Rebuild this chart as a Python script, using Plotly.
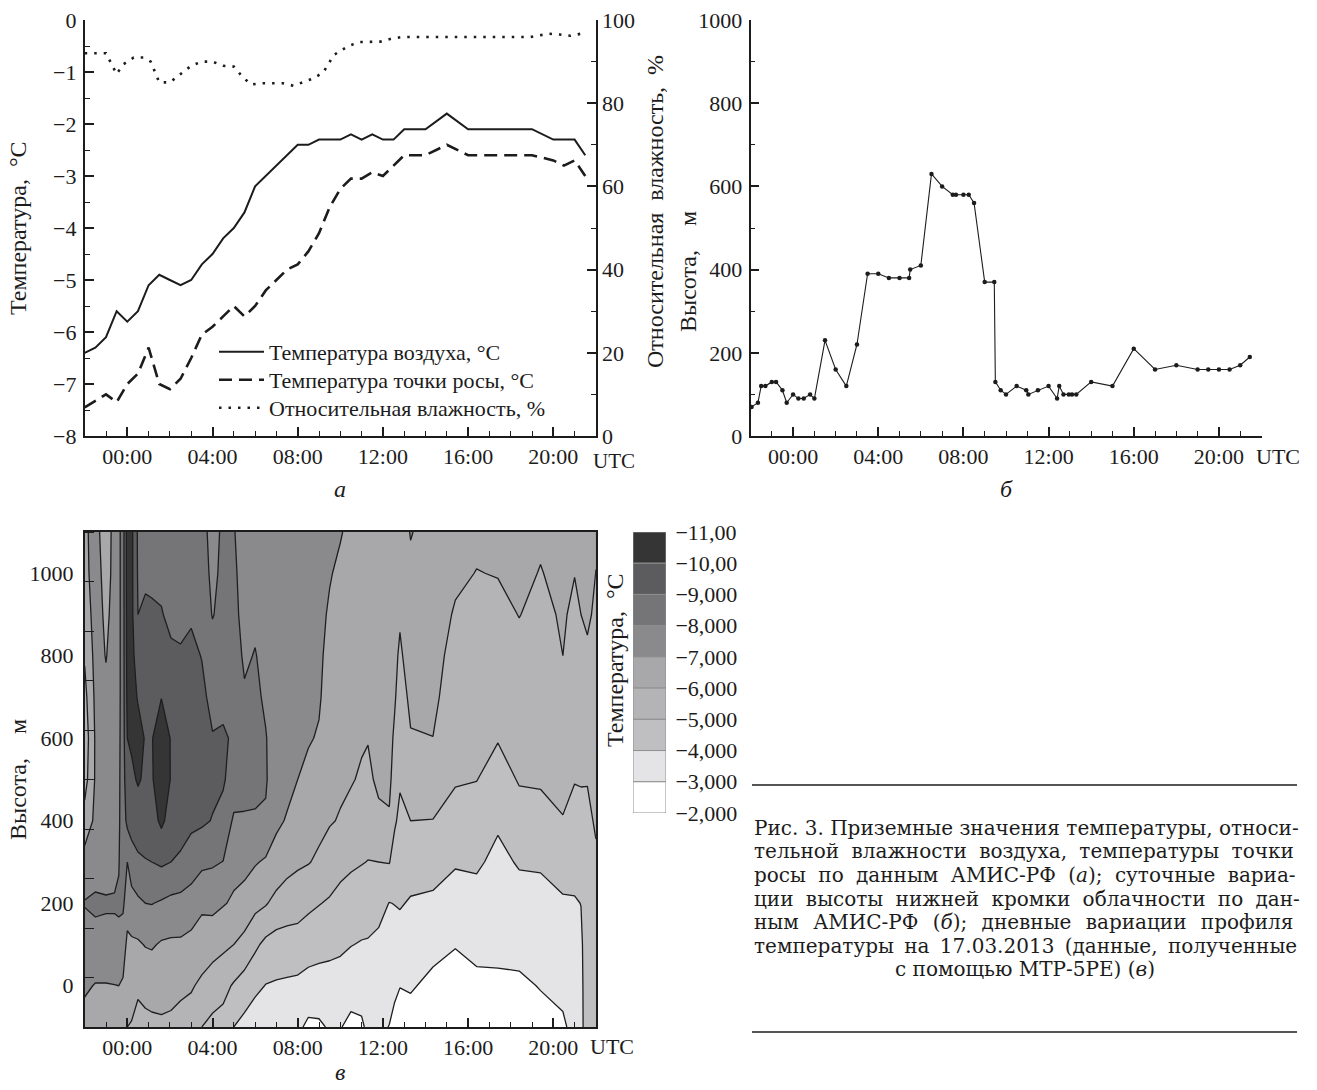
import plotly.graph_objects as go

W, H = 1317, 1090
SERIF = "Liberation Serif"
CAPFONT = "DejaVu Serif"
INK = "#1c1c1c"

# ---------------- panel а : surface data (hours from 00:00 UTC) ----------------
air_time = [-2, -1.5, -1, -0.5, 0, 0.5, 1, 1.5, 2, 2.5, 3, 3.5, 4, 4.5, 5, 5.5, 6, 6.5, 7, 7.5,
            8, 8.5, 9, 9.5, 10, 10.5, 11, 11.5, 12, 12.5, 13, 14, 15, 16, 19, 20, 21, 21.5]
air_temp = [-6.4, -6.3, -6.1, -5.6, -5.8, -5.6, -5.1, -4.9, -5.0, -5.1, -5.0, -4.7, -4.5, -4.2,
            -4.0, -3.7, -3.2, -3.0, -2.8, -2.6, -2.4, -2.4, -2.3, -2.3, -2.3, -2.2, -2.3, -2.2,
            -2.3, -2.3, -2.1, -2.1, -1.8, -2.1, -2.1, -2.3, -2.3, -2.6]

dew_time = [-2, -1, -0.5, 0, 0.5, 1, 1.5, 2, 2.5, 3, 3.5, 4, 4.5, 5, 5.5, 6, 6.5, 7, 7.5, 8,
            8.5, 9, 9.5, 10, 10.5, 11, 11.5, 12, 12.5, 13, 14, 15, 16, 19, 20, 20.5, 21, 21.5]
dew_temp = [-7.45, -7.2, -7.35, -7.0, -6.8, -6.3, -7.0, -7.1, -6.9, -6.5, -6.05, -5.9, -5.7,
            -5.5, -5.7, -5.5, -5.2, -5.0, -4.8, -4.7, -4.45, -4.1, -3.6, -3.25, -3.05, -3.05,
            -2.93, -3.0, -2.8, -2.6, -2.6, -2.4, -2.6, -2.6, -2.7, -2.8, -2.7, -3.0]

rh_time = [-2, -1, -0.5, -0.2, 0.3, 0.75, 1.1, 1.5, 2, 2.5, 3, 3.5, 4, 4.5, 5, 5.4, 5.8, 6.3,
           7.3, 7.8, 8.3, 8.75, 9.2, 9.7, 10.0, 10.4, 10.9, 11.4, 11.9, 12.4, 12.9, 18.9, 19.3,
           19.8, 20.3, 20.8, 21.3]
rh_value = [92, 92, 87, 89.3, 91, 91, 90, 85, 85, 87, 89, 90, 90, 89, 88.8, 86.4, 84.5, 84.8,
            84.8, 84.2, 85.2, 86, 87.4, 91.6, 92.6, 93.8, 94.7, 94.8, 94.8, 95.5, 95.9, 95.9,
            96.2, 96.7, 96.5, 96.2, 96.7]

# ---------------- panel б : cloud base height ----------------
cloud_time = [-1.95, -1.65, -1.5, -1.3, -1.0, -0.8, -0.5, -0.3, 0, 0.25, 0.5, 0.8, 1.0, 1.5,
              2.0, 2.5, 3.0, 3.5, 4.0, 4.5, 5.0, 5.45, 5.5, 6.0, 6.5, 7.0, 7.5, 7.65, 8.0, 8.25,
              8.5, 9.0, 9.45, 9.5, 9.75, 10.0, 10.5, 10.95, 11.05, 11.5, 12.0, 12.4, 12.5, 12.7,
              12.95, 13.1, 13.3, 14.0, 15.0, 16.0, 17.0, 18.0, 19.0, 19.5, 20.0, 20.5, 21.0, 21.45]
cloud_height = [70, 80, 120, 120, 130, 130, 110, 80, 100, 90, 90, 100, 90, 230, 160, 120, 220,
                390, 390, 380, 380, 380, 400, 410, 630, 600, 580, 580, 580, 580, 560, 370, 370,
                130, 110, 100, 120, 110, 100, 110, 120, 90, 120, 100, 100, 100, 100, 130, 120,
                210, 160, 170, 160, 160, 160, 160, 170, 190]

# ---------------- panel в : temperature profiles (MTP-5PE) ----------------
prof_heights = [-100, 0, 100, 200, 300, 400, 500, 600, 700, 800, 900, 1000, 1100]
prof_times = [-2.0, -1.5, -1.0, -0.6, -0.4, -0.2, 0.0, 0.2, 0.5, 0.85, 1.15, 1.6, 2.05, 2.5, 3.0,
              3.5, 4.0, 4.5, 5.0, 5.5, 6.0, 6.5, 7.0, 7.5, 8.0, 8.5, 9.0, 9.5, 10.0, 10.5, 11.0,
              11.3, 11.8, 12.3, 12.55, 12.8, 13.3, 14.35, 15.4, 16.4, 17.4, 18.4, 19.4, 20.45,
              21.0, 21.3, 21.6, 22.0]
# one profile (bottom -> top, values at prof_heights) per time in prof_times
temp_profiles = [
    [-6.6, -7.15, -7.55, -8.05, -7.4, -6.4, -5.6, -5.4, -5.7, -6.1, -6.5, -6.8, -6.9],
    [-6.7, -6.95, -7.7, -8.15, -7.6, -7.2, -7.1, -7.1, -7.2, -7.3, -7.35, -7.3, -7.2],
    [-6.75, -6.95, -7.7, -8.1, -7.6, -7.4, -7.3, -7.25, -7.15, -6.97, -6.85, -6.75, -6.7],
    [-6.75, -6.98, -7.7, -8.1, -7.7, -7.5, -7.45, -7.4, -7.35, -7.3, -7.25, -7.2, -7.2],
    [-6.7, -7.0, -7.8, -8.1, -7.95, -7.85, -7.8, -7.75, -7.7, -7.7, -7.7, -7.7, -7.7],
    [-6.4, -6.9, -7.4, -8.2, -8.5, -8.55, -8.6, -8.6, -8.6, -8.6, -8.6, -8.6, -8.6],
    [-6.0, -6.41, -6.82, -7.36, -8.0, -9.23, -9.62, -10.0, -10.2, -10.3, -10.35, -10.4, -10.4],
    [-5.93, -6.4, -6.86, -7.58, -8.6, -9.35, -9.8, -10.15, -10.25, -10.25, -10.25, -10.25, -10.25],
    [-5.6, -6.2, -6.88, -7.82, -8.84, -9.5, -10.1, -10.25, -9.95, -9.6, -9.0, -8.9, -8.85],
    [-5.75, -6.3, -7.05, -8.0, -8.95, -9.5, -9.85, -9.95, -9.8, -9.55, -9.15, -8.85, -8.7],
    [-5.8, -6.35, -7.1, -8.03, -9.0, -9.6, -9.9, -9.95, -9.8, -9.5, -9.1, -8.85, -8.7],
    [-5.85, -6.35, -6.9, -7.9, -9.15, -10.2, -10.6, -10.5, -9.98, -9.65, -9.05, -8.8, -8.7],
    [-5.8, -6.3, -6.85, -7.75, -9.0, -9.6, -9.95, -9.95, -9.75, -9.15, -8.8, -8.6, -8.5],
    [-5.65, -6.2, -6.85, -7.7, -8.85, -9.4, -9.6, -9.6, -9.4, -9.1, -8.75, -8.5, -8.4],
    [-5.5, -6.1, -6.72, -7.52, -8.55, -9.2, -9.4, -9.45, -9.35, -9.2, -8.9, -8.6, -8.4],
    [-5.0, -5.8, -6.56, -7.17, -8.22, -9.15, -9.35, -9.35, -9.2, -8.97, -8.6, -8.3, -8.2],
    [-4.75, -5.5, -6.39, -7.26, -8.12, -8.96, -9.2, -9.05, -8.75, -8.4, -7.95, -7.85, -7.8],
    [-4.65, -5.28, -6.2, -7.07, -7.98, -8.72, -9.1, -9.1, -8.8, -8.5, -8.3, -8.15, -8.1],
    [-4.0, -4.9, -6.0, -6.87, -7.3, -7.85, -8.6, -8.9, -8.75, -8.45, -8.25, -8.15, -8.05],
    [-3.7, -4.56, -5.71, -6.62, -7.31, -7.94, -8.2, -8.25, -8.12, -7.85, -7.7, -7.65, -7.6],
    [-3.4, -4.23, -5.19, -6.28, -7.08, -7.92, -8.2, -8.25, -8.2, -8.05, -7.8, -7.65, -7.55],
    [-3.55, -3.97, -4.76, -6.08, -6.88, -7.88, -8.1, -8.05, -7.85, -7.7, -7.55, -7.45, -7.4],
    [-3.45, -3.9, -4.61, -5.69, -6.67, -7.15, -7.35, -7.5, -7.55, -7.55, -7.5, -7.45, -7.4],
    [-3.35, -3.85, -4.59, -5.5, -6.33, -6.94, -7.2, -7.35, -7.4, -7.4, -7.35, -7.3, -7.3],
    [-3.2, -3.8, -4.57, -5.41, -6.15, -6.57, -7.0, -7.15, -7.25, -7.3, -7.3, -7.25, -7.2],
    [-2.8, -3.65, -4.43, -5.2, -6.05, -6.4, -6.75, -7.08, -7.2, -7.25, -7.25, -7.2, -7.15],
    [-2.85, -3.6, -4.34, -5.04, -5.84, -6.26, -6.59, -6.92, -7.1, -7.15, -7.15, -7.1, -7.05],
    [-3.1, -3.6, -4.26, -4.89, -5.58, -6.07, -6.24, -6.41, -6.59, -6.76, -6.93, -7.04, -7.08],
    [-3.05, -3.6, -4.16, -4.7, -5.29, -5.94, -6.14, -6.29, -6.44, -6.59, -6.74, -6.89, -7.04],
    [-2.75, -3.42, -4.03, -4.58, -5.14, -5.71, -6.07, -6.2, -6.33, -6.47, -6.6, -6.73, -6.86],
    [-2.85, -3.42, -3.94, -4.49, -5.04, -5.47, -5.89, -6.1, -6.23, -6.37, -6.5, -6.62, -6.75],
    [-3.2, -3.55, -3.92, -4.44, -4.98, -5.37, -5.75, -6.05, -6.18, -6.3, -6.43, -6.55, -6.68],
    [-3.15, -3.5, -3.8, -4.29, -5.0, -5.7, -6.25, -6.32, -6.4, -6.47, -6.55, -6.62, -6.7],
    [-2.98, -3.31, -3.65, -3.98, -5.04, -5.87, -6.25, -6.3, -6.36, -6.43, -6.5, -6.55, -6.6],
    [-2.75, -3.17, -3.59, -4.02, -4.61, -5.12, -5.49, -5.85, -6.1, -6.2, -6.3, -6.4, -6.5],
    [-2.45, -3.03, -3.57, -4.08, -4.43, -4.79, -5.1, -5.36, -5.61, -5.87, -6.1, -6.3, -6.5],
    [-2.65, -3.08, -3.49, -3.91, -4.44, -5.0, -5.47, -5.94, -6.18, -6.38, -6.58, -6.8, -7.05],
    [-2.5, -2.8, -3.24, -3.82, -4.4, -4.98, -5.48, -5.99, -6.2, -6.3, -6.4, -6.5, -6.6],
    [-2.3, -2.65, -3.04, -3.56, -4.09, -4.65, -5.08, -5.29, -5.5, -5.71, -5.92, -6.15, -6.35],
    [-2.4, -2.8, -3.23, -3.68, -4.13, -4.59, -5.02, -5.21, -5.4, -5.6, -5.79, -5.98, -6.17],
    [-2.45, -2.85, -3.2, -3.49, -3.78, -4.12, -4.61, -5.05, -5.3, -5.54, -5.79, -6.03, -6.25],
    [-2.45, -2.85, -3.27, -3.66, -4.08, -4.62, -5.07, -5.31, -5.54, -5.78, -6.02, -6.22, -6.4],
    [-2.7, -3.04, -3.38, -3.72, -4.1, -4.71, -5.09, -5.26, -5.44, -5.61, -5.78, -5.96, -6.15],
    [-2.85, -3.25, -3.57, -3.89, -4.39, -4.96, -5.24, -5.49, -5.75, -6.0, -6.1, -6.25, -6.4],
    [-3.3, -3.5, -3.72, -3.94, -4.28, -4.68, -5.04, -5.23, -5.43, -5.62, -5.82, -6.02, -6.2],
    [-3.85, -3.85, -3.88, -4.01, -4.4, -4.82, -5.04, -5.25, -5.45, -5.7, -6.0, -6.2, -6.35],
    [-4.3, -4.35, -4.4, -4.5, -4.65, -4.85, -5.03, -5.3, -5.55, -5.85, -6.15, -6.3, -6.4],
    [-4.4, -4.5, -4.6, -4.75, -4.9, -5.08, -5.23, -5.39, -5.54, -5.69, -5.84, -5.99, -6.1],
]

# contour levels and band colours (coldest first)
levels = [-11, -10, -9, -8, -7, -6, -5, -4, -3, -2]
level_labels = ["−11,00", "−10,00", "−9,000", "−8,000", "−7,000", "−6,000", "−5,000",
                "−4,000", "−3,000", "−2,000"]
band_colors = ["#353535", "#5c5c5e", "#757578", "#8a8a8c", "#a8a8aa", "#b4b4b6", "#bfbfc1",
               "#e4e4e6", "#ffffff"]

time_ticks = [0, 4, 8, 12, 16, 20]
time_labels = ["00:00", "04:00", "08:00", "12:00", "16:00", "20:00"]

caption_lines = [
    "Рис. 3. Приземные значения температуры, относи-",
    "тельной влажности воздуха, температуры точки",
    "росы по данным АМИС-РФ (<i>а</i>); суточные вариа-",
    "ции высоты нижней кромки облачности по дан-",
    "ным АМИС-РФ (<i>б</i>); дневные вариации профиля",
    "температуры на 17.03.2013 (данные, полученные",
    "с помощью МТР-5РЕ) (<i>в</i>)",
]
# extra inter-word space per caption line (to imitate justified typesetting)
caption_pad = ["", "\u2009\u200a", "\u2009\u200a", "\u2009\u200a", "\u2009\u2009", "\u2009", ""]

# ---------------- geometry (page pixels) ----------------
def fx(p):
    return p / W


def fy(p):
    return 1 - p / H


AX = (84.7, 595.9)
AY = (20, 436)
BX = (750.5, 1261.5)
CY = (532, 1027)
CBX = (633, 666)
CBY = (532, 813)

TICKFONT = dict(family=SERIF, size=22, color=INK)

fig = go.Figure()

fig.add_trace(go.Scatter(x=air_time, y=air_temp, mode="lines", name="Температура воздуха, °C",
                         line=dict(color=INK, width=2), xaxis="x", yaxis="y", legend="legend"))
fig.add_trace(go.Scatter(x=dew_time, y=dew_temp, mode="lines", name="Температура точки росы, °C",
                         line=dict(color=INK, width=2.6, dash="13px,7px"), xaxis="x", yaxis="y",
                         legend="legend2"))
fig.add_trace(go.Scatter(x=rh_time, y=rh_value, mode="lines", name="Относительная влажность, %",
                         line=dict(color=INK, width=2.6, dash="2.5px,7px"), xaxis="x", yaxis="y2",
                         legend="legend3"))

fig.add_trace(go.Scatter(x=cloud_time, y=cloud_height, mode="lines+markers", showlegend=False,
                         line=dict(color=INK, width=1.1), marker=dict(size=4.5, color=INK),
                         xaxis="x2", yaxis="y3"))

zgrid = [list(row) for row in zip(*temp_profiles)]
cscale = ([[0.0, "#2a2a2a"]] + [[(i + 1) / 10, c] for i, c in enumerate(band_colors)]
          + [[1.0, "#ffffff"]])
fig.add_trace(go.Contour(x=prof_times, y=prof_heights, z=zgrid, autocontour=False,
                         contours=dict(start=levels[0], end=levels[-1], size=1, coloring="fill",
                                       showlines=True),
                         line=dict(color="#1e1e1e", width=1.3, smoothing=0),
                         colorscale=cscale, showscale=False, hoverinfo="skip",
                         xaxis="x3", yaxis="y4"))

band_base = levels[:-1]
band_size = [b - a for a, b in zip(levels[:-1], levels[1:])]
fig.add_trace(go.Bar(x=[0] * len(band_base), y=band_size, base=band_base, width=1,
                     marker=dict(color=band_colors, line=dict(color="#8e8e8e", width=1)),
                     showlegend=False, hoverinfo="skip", xaxis="x4", yaxis="y5"))


def time_axis(domain, anchor, mirror=False):
    return dict(domain=domain, anchor=anchor, range=[-2, 22], tickvals=time_ticks,
                ticktext=time_labels, ticks="inside", ticklen=9, tickwidth=1.5, tickcolor=INK,
                minor=dict(dtick=1, tick0=0, ticks="inside", ticklen=5, tickwidth=1.3,
                           tickcolor=INK),
                showline=True, linecolor=INK, linewidth=1.6, mirror=mirror, showgrid=False,
                zeroline=False, tickfont=TICKFONT, ticklabelstandoff=0)


def val_axis(domain, anchor, rng, dtick, minor_dtick, side="left", standoff=2, **kw):
    d = dict(domain=domain, anchor=anchor, range=rng, dtick=dtick, tick0=0, ticks="inside",
             ticklen=9, tickwidth=1.5, tickcolor=INK,
             minor=dict(dtick=minor_dtick, ticks="inside", ticklen=5, tickwidth=1.3,
                        tickcolor=INK),
             showline=True, linecolor=INK, linewidth=1.6, showgrid=False, zeroline=False,
             tickfont=TICKFONT, side=side, ticklabelstandoff=standoff)
    d.update(kw)
    return d


def legend_row(y):
    return dict(x=fx(214), y=fy(y), xanchor="left", yanchor="middle", bgcolor="rgba(0,0,0,0)",
                font=dict(family=SERIF, size=22, color=INK), itemwidth=45)


ya = (fy(AY[1]), fy(AY[0]))
yc = (fy(CY[1]), fy(CY[0]))

fig.update_layout(
    width=W, height=H, template="none", autosize=False,
    margin=dict(l=0, r=0, t=0, b=0), paper_bgcolor="white", plot_bgcolor="white",
    font=dict(family=SERIF, size=22, color=INK), barmode="overlay",
    xaxis=time_axis((fx(AX[0]), fx(AX[1])), "y"),
    yaxis=val_axis(ya, "x", [-8, 0], 1, 0.5),
    yaxis2=val_axis(ya, "x", [0, 100], 20, 10, side="right", standoff=0, overlaying="y"),
    xaxis2=time_axis((fx(BX[0]), fx(BX[1])), "y3"),
    yaxis3=val_axis(ya, "x2", [0, 1000], 200, 100),
    xaxis3=time_axis((fx(AX[0]), fx(AX[1])), "y4", mirror=True),
    yaxis4=dict(domain=yc, anchor="x3", range=[-100, 1100], tickvals=[0, 200, 400, 600, 800, 1000],
                ticks="", showline=True, linecolor=INK, linewidth=1.6, mirror=True,
                minor=dict(tick0=20, dtick=120, ticks="inside", ticklen=9, tickwidth=1.3,
                           tickcolor=INK),
                showgrid=False, zeroline=False, tickfont=TICKFONT, ticklabelstandoff=5),
    xaxis4=dict(domain=(fx(CBX[0]), fx(CBX[1])), anchor="y5", range=[-0.5, 0.5], visible=False),
    yaxis5=dict(domain=(fy(CBY[1]), fy(CBY[0])), anchor="x4", range=[-2, -11], side="right",
                tickvals=levels, ticktext=level_labels, ticks="outside", ticklen=4,
                tickcolor="rgba(0,0,0,0)", showline=False, showgrid=False, zeroline=False,
                tickfont=TICKFONT),
    legend=legend_row(352),
    legend2=legend_row(380),
    legend3=legend_row(408),
)

ann = []


def text(x, y, s, size=22, angle=0, xanchor="center", family=SERIF):
    ann.append(dict(x=fx(x), y=fy(y), xref="paper", yref="paper", text=s, showarrow=False,
                    textangle=angle, xanchor=xanchor, yanchor="middle",
                    font=dict(family=family, size=size, color=INK)))


text(18, 228, "Температура,\u2002°C", size=24, angle=-90)
text(655, 212, "Относительная\u2002влажность,\u2002%", size=24, angle=-90)
text(688, 272, "Высота,\u2003м", size=24, angle=-90)
text(18, 780, "Высота,\u2003м", size=24, angle=-90)
text(615, 660, "Температура,\u2002°C", size=24, angle=-90)
text(614, 461, "UTC", size=21)
text(1278, 456, "UTC")
text(612, 1046, "UTC")
text(340, 489, "<i>а</i>", size=24)
text(1006, 489, "<i>б</i>", size=24)
text(340, 1072, "<i>в</i>", size=24)

cap_y0, cap_dy = 828, 23.5
for i, line in enumerate(caption_lines[:-1]):
    padded = line.replace(" ", " " + caption_pad[i])
    text(752, cap_y0 + i * cap_dy, padded, size=20, xanchor="left", family=CAPFONT)
text(1024.5, cap_y0 + 6 * cap_dy, caption_lines[-1], size=20, family=CAPFONT)

fig.update_layout(annotations=ann, shapes=[
    dict(type="line", xref="paper", yref="paper", x0=fx(752), x1=fx(1297), y0=fy(785), y1=fy(785),
         line=dict(color=INK, width=1.5)),
    dict(type="line", xref="paper", yref="paper", x0=fx(752), x1=fx(1297), y0=fy(1032), y1=fy(1032),
         line=dict(color=INK, width=1.5)),
])

fig.write_html("out.html", config={"displayModeBar": False},
               post_script="document.body.style.margin='0px';document.body.style.padding='0px';")
